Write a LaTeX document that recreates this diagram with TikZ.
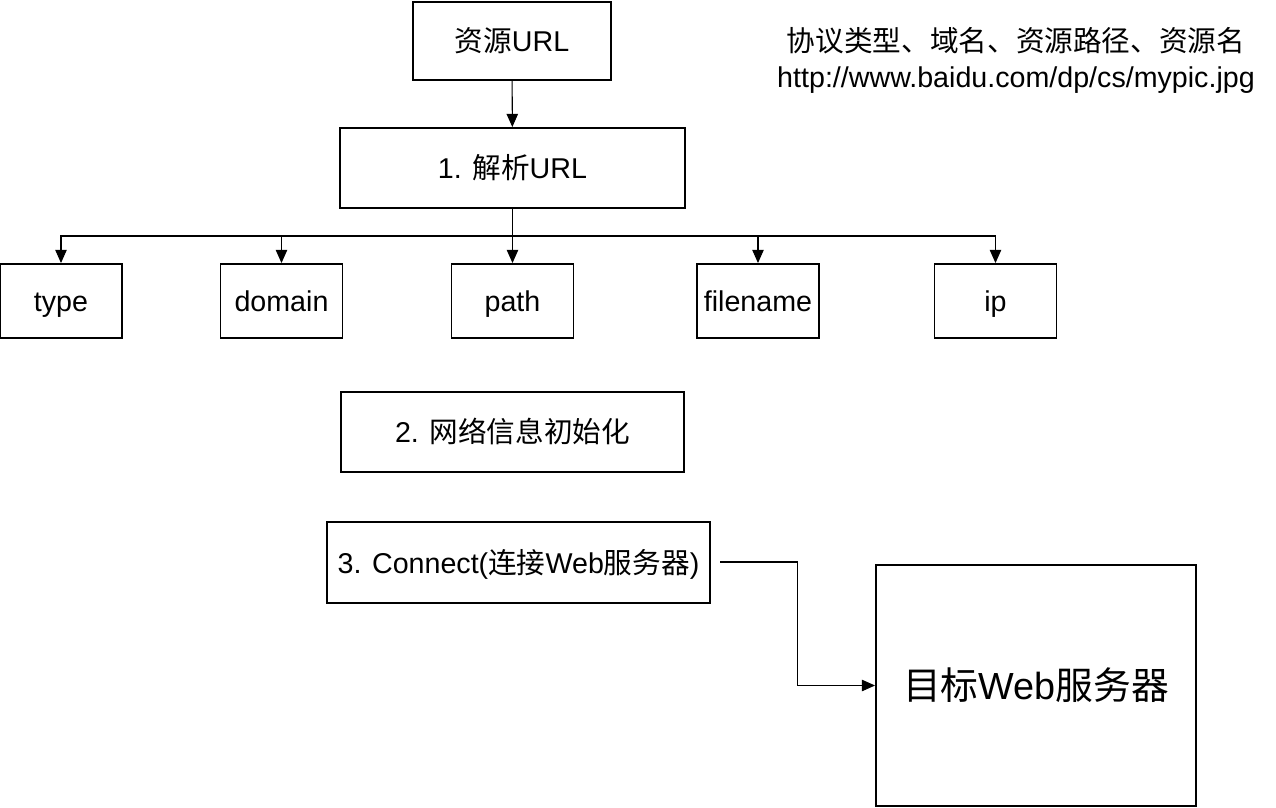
\documentclass[tikz,border=0pt]{standalone}
\usepackage{fontspec}
\setmainfont{Liberation Sans}
\newfontfamily\cjk{Noto Sans CJK SC}
\usetikzlibrary{shapes}
\usetikzlibrary{calc}
\usetikzlibrary{arrows.meta}

\tikzset{
  box/.style={draw, rectangle, line width=1.1pt, inner sep=0pt,
    text height=12.5pt, text depth=0pt,
    font=\fontsize{16.3pt}{19pt}\selectfont},
  leaf/.style={box, minimum width=2.44cm, minimum height=1.48cm},
  link/.style={line width=0.6pt, -{Triangle[length=7.5pt,width=6.5pt]}},
}

\begin{document}
\begin{tikzpicture}[x=0.02cm, y=-0.02cm]
  \useasboundingbox (0,0) rectangle (1276,808);

  \node[box, minimum width=3.96cm, minimum height=1.56cm] (res) at (512,41) {{\cjk 资源}URL};
  \node[box, minimum width=6.9cm, minimum height=1.6cm] (parse) at (512.5,168) {1. {\cjk 解析}URL};

  \path[link] (res) edge (parse);

  \node[leaf] (type) at (61,301) {type};
  \node[leaf] (domain) at (281.5,301) {domain};
  \node[leaf] (path) at (512.5,301) {path};
  \node[leaf] (filename) at (758,301) {filename};
  \node[leaf] (ip) at (995.5,301) {ip};

  \coordinate (bus) at (512.5,236);
  \draw[link] (parse.south) -- (path.north);
  \draw[link] (bus) -| (type.north);
  \draw[link] (bus) -| (domain.north);
  \draw[link] (bus) -| (filename.north);
  \draw[link] (bus) -| (ip.north);

  \node[align=center, font=\fontsize{16.3pt}{20.4pt}\selectfont] (note) at (1016,60)
    {{\cjk 协议类型、域名、资源路径、资源名}\\http://www.baidu.com/dp/cs/mypic.jpg};

  \node[box, minimum width=6.86cm, minimum height=1.6cm] (init) at (512.5,432) {2. {\cjk 网络信息初始化}};
  \node[box, minimum width=7.66cm, minimum height=1.62cm] (conn) at (518.5,562.5) {3. Connect({\cjk 连接}Web{\cjk 服务器})};

  \node[box, minimum width=6.4cm, minimum height=4.82cm, text height=16.5pt,
    font=\fontsize{21.5pt}{25pt}\selectfont] (server) at (1036,685.5)
    {{\cjk 目标}Web{\cjk 服务器}};

  \coordinate (connout) at (720,562);
  \draw[link] (connout) -| ($(connout)!0.5!(server.west)$) |- (server.west);
\end{tikzpicture}
\end{document}
